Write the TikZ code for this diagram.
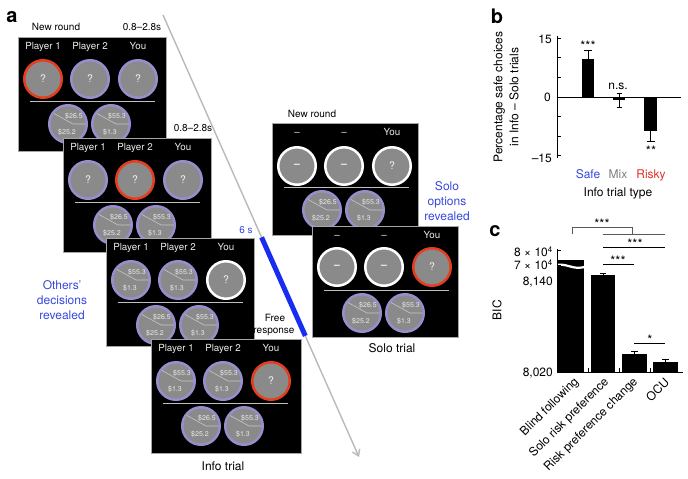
\documentclass[tikz,border=0pt]{standalone}
\usepackage{fontspec}
\setmainfont{TeX Gyre Heros}
\usetikzlibrary{arrows.meta,calc}
\definecolor{cgray}{RGB}{138,138,138}
\definecolor{lav}{RGB}{152,142,205}
\definecolor{cred}{RGB}{228,62,30}
\definecolor{tblue}{RGB}{55,72,222}
\definecolor{bblue}{RGB}{25,45,240}
\definecolor{agray}{RGB}{185,185,185}
\definecolor{mixgray}{RGB}{125,125,125}
\definecolor{riskred}{RGB}{220,50,40}
\tikzset{
  screenbox/.style={fill=black, draw=black!35, line width=0.8pt, inner sep=0pt, outer sep=0pt},
  hdr/.style={text=white!92!black, font=\fontsize{9.8}{11}\selectfont, inner sep=0pt, anchor=base},
  sepl/.style={draw=black!25, line width=1pt},
  ccirc/.style={circle, fill=cgray, line width=2.5pt, minimum size=37.5pt, inner sep=0pt,
                text=white!95!black, font=\fontsize{10.5}{12}\selectfont},
  divl/.style={draw=white!78!black, line width=0.6pt},
  opt/.style={text=white!92!black, font=\fontsize{7}{8}\selectfont, inner sep=0pt},
  lbl/.style={font=\fontsize{10}{12}\selectfont, inner sep=0pt, anchor=base},
  big/.style={font=\fontsize{12}{15}\selectfont, inner sep=0pt, anchor=base},
  panel/.style={font=\fontsize{20}{22}\selectfont\bfseries, inner sep=0pt},
  axl/.style={line width=0.8pt},
  star/.style={font=\fontsize{13}{14}\selectfont, inner sep=0pt, anchor=base},
}
\newcommand\askcirc[5]{\node[ccirc, draw=#4] (#1) at (#2,#3) {#5};}
\newcommand\optcirc[5]{%
  \node[ccirc, draw=lav] (#1) at (#2,#3) {};
  \draw[divl] ({#2-14},{#3-10.5}) -- ({#2+5},#3) -- ({#2+17.5},#3);
  \node[opt] (#1t) at ({#2+6},{#3-8}) {#4};
  \node[opt] (#1b) at ({#2-1},{#3+8}) {#5};
}
\newcommand\screenbase[6]{%
  \node[screenbox, minimum width=#2, minimum height=#3, anchor=north west] (#1) at (0,0) {};
  \node[hdr] (#1h1) at (25,12.5) {#4};
  \node[hdr] (#1h2) at (72,12.5) {#5};
  \node[hdr] (#1h3) at (120,12.5) {#6};
  \draw[sepl] (12,64) -- (137,64);
  \optcirc{#1o1}{50}{87}{\$26.5}{\$25.2}
  \optcirc{#1o2}{93}{87}{\$55.3}{\$1.3}
}
\begin{document}
\begin{tikzpicture}[x=1pt,y=-1pt]
\useasboundingbox (0,0) rectangle (688,479);

% ---------- panel a ----------
\node[panel] (pa) at (12,17) {a};
\coordinate (tA) at (163,15);
\coordinate (tB) at (359,457);
\draw[agray, line width=1.4pt, -{Straight Barb[length=6pt,width=8pt]}] (tA) -- (tB);
\draw[bblue, line width=5pt] ($(tA)!0.503!(tB)$) -- ($(tA)!0.726!(tB)$);

\begin{scope}[shift={(18,37)}]
  \screenbase{sa}{148}{114}{Player 1}{Player 2}{You}
  \askcirc{sac1}{25}{42}{cred}{?}
  \askcirc{sac2}{72}{42}{lav}{?}
  \askcirc{sac3}{120}{42}{lav}{?}
\end{scope}
\begin{scope}[shift={(63,138)}]
  \screenbase{sb}{148}{114}{Player 1}{Player 2}{You}
  \askcirc{sbc1}{25}{42}{lav}{?}
  \askcirc{sbc2}{72}{42}{cred}{?}
  \askcirc{sbc3}{120}{42}{lav}{?}
\end{scope}
\begin{scope}[shift={(106,238)}]
  \screenbase{sc}{148}{108}{Player 1}{Player 2}{You}
  \optcirc{scc1}{25}{42}{\$55.3}{\$1.3}
  \optcirc{scc2}{72}{42}{\$55.3}{\$1.3}
  \askcirc{scc3}{120}{42}{white}{?}
\end{scope}
\begin{scope}[shift={(151,339)}]
  \screenbase{sd}{150}{114}{Player 1}{Player 2}{You}
  \optcirc{sdc1}{25}{42}{\$55.3}{\$1.3}
  \optcirc{sdc2}{72}{42}{\$55.3}{\$1.3}
  \askcirc{sdc3}{120}{42}{cred}{?}
\end{scope}
\begin{scope}[shift={(272,123)}]
  \screenbase{se}{146}{112}{–}{–}{You}
  \askcirc{sec1}{25}{43}{white}{\bfseries –}
  \askcirc{sec2}{72}{43}{white}{\bfseries –}
  \askcirc{sec3}{120}{43}{white}{?}
\end{scope}
\begin{scope}[shift={(312,226)}]
  \screenbase{sf}{146}{111}{–}{–}{You}
  \askcirc{sfc1}{25}{41}{white}{\bfseries –}
  \askcirc{sfc2}{72}{41}{white}{\bfseries –}
  \askcirc{sfc3}{120}{41}{cred}{?}
\end{scope}

\node[lbl] (nr1) at (56,30.6) {New round};
\node[lbl] (tm1) at (142,30.6) {0.8–2.8s};
\node[lbl] (tm2) at (193,131.6) {0.8–2.8s};
\node[lbl] (nr2) at (312,117.6) {New round};
\node[lbl, text=tblue] (six) at (246,233.6) {6 s};
\node[lbl] (fr1) at (275,321.6) {Free};
\node[lbl] (fr2) at (274,333) {response};
\node[big, text=tblue] (od1) at (62,289.3) {Others’};
\node[big, text=tblue] (od2) at (62,304.3) {decisions};
\node[big, text=tblue] (od3) at (62,319.3) {revealed};
\node[big, text=tblue] (so1) at (447,190.3) {Solo};
\node[big, text=tblue] (so2) at (447,205.3) {options};
\node[big, text=tblue] (so3) at (447,220.3) {revealed};
\node[big] (solo) at (392,352.3) {Solo trial};
\node[big] (info) at (223,470.3) {Info trial};

% ---------- panel b ----------
\node[panel] (pb) at (497,16) {b};
\coordinate (bya) at (557,36);
\coordinate (byb) at (557,158);
\coordinate (bz0) at (557,97);
\coordinate (bz1) at (681,97);
\draw[axl] (bya) -- (byb);
\foreach \yy in {38.2,57.8,77.4,97,116.6,136.2,155.8} \draw[axl] (557,\yy) -- (561,\yy);
\node[big, anchor=base east] (bt1) at (552,43.3) {15};
\node[big, anchor=base east] (bt2) at (551,101.3) {0};
\node[big, anchor=base east] (bt3) at (552,162.3) {–15};
\node[font=\fontsize{12}{16}\selectfont, align=center, rotate=90, inner sep=0pt] (bylab) at (506,97) {Percentage safe choices\\in Info – Solo trials};
% bars
\fill (582,59) rectangle (594,97);
\fill (613,97) rectangle (625,100);
\fill (644,97) rectangle (657,131);
\draw[axl] (bz0) -- (bz1);
\draw[axl] (588,59) -- (588,50) (584,50) -- (592,50);
\draw[axl] (619,93) -- (619,107) (616.5,93) -- (621.5,93) (616.5,107) -- (621.5,107);
\draw[axl] (650.5,131) -- (650.5,141) (646.5,141) -- (654.5,141);
\node[star] (bs1) at (588,50.5) {***};
\node[big] (bs2) at (618,89.3) {n.s.};
\node[star] (bs3) at (651,155.5) {**};
\node[big, text=tblue] (bsafe) at (588,178.3) {Safe};
\node[big, text=mixgray] (bmix) at (618,178.3) {Mix};
\node[big, text=riskred] (brisk) at (651,178.3) {Risky};
\node[big] (btype) at (618,196) {Info trial type};

% ---------- panel c ----------
\node[panel] (pc) at (495,231) {c};
\coordinate (cya) at (557,249);
\coordinate (cyb) at (557,372);
\coordinate (cxb) at (683,372);
\fill (558,260) rectangle (584,372);
\fill (591,275) rectangle (615,372);
\fill (622,354) rectangle (647,372);
\fill (653,362) rectangle (678,372);
\draw[white, line width=2.2pt] (554,266) .. controls (566,261) and (573,272) .. (587,266);
\draw[axl] (cya) -- (cyb) -- (cxb);
\foreach \yy in {250,265,280,295.3,310.7,326,341.3,356.7} \draw[axl] (557,\yy) -- (561,\yy);
\foreach \xx in {588,619,650} \draw[axl] (\xx,372) -- (\xx,368);
\draw[axl] (603,275) -- (603,273) (600,273) -- (606,273);
\draw[axl] (634.5,354) -- (634.5,351) (631,351) -- (638,351);
\draw[axl] (665.5,362) -- (665.5,359) (662,359) -- (669,359);
\node[big, anchor=base east] (ct1) at (553,256.5) {8 × 10\textsuperscript{4}};
\node[big, anchor=base east] (ct2) at (553,269.5) {7 × 10\textsuperscript{4}};
\node[big, anchor=base east] (ct3) at (553,285.5) {8,140};
\node[big, anchor=base east] (ct4) at (553,376.5) {8,020};
\node[big, anchor=center, rotate=90] (cbic) at (497,310) {BIC};
\draw[black!65, line width=0.7pt] (572,234) -- (572,227) -- (632,227) -- (632,234);
\draw[black!65, line width=0.7pt] (603,234) -- (665,234);
\draw[line width=0.7pt] (603,247) -- (665,247);
\draw[line width=0.7pt] (603,264) -- (634,264);
\draw[line width=0.7pt] (634,343) -- (665,343);
\node[star] (cs1) at (602,228.5) {***};
\node[star] (cs2) at (635,248.5) {***};
\node[star] (cs3) at (618,265.5) {***};
\node[star] (cs4) at (650,344.5) {*};
\node[big, anchor=east, rotate=45] (cx1) at (577,380) {Blind following};
\node[big, anchor=east, rotate=45] (cx2) at (607,380) {Solo risk preference};
\node[big, anchor=east, rotate=45] (cx3) at (636,380) {Risk preference change};
\node[big, anchor=east, rotate=45] (cx4) at (667,380) {OCU};
\end{tikzpicture}
\end{document}
